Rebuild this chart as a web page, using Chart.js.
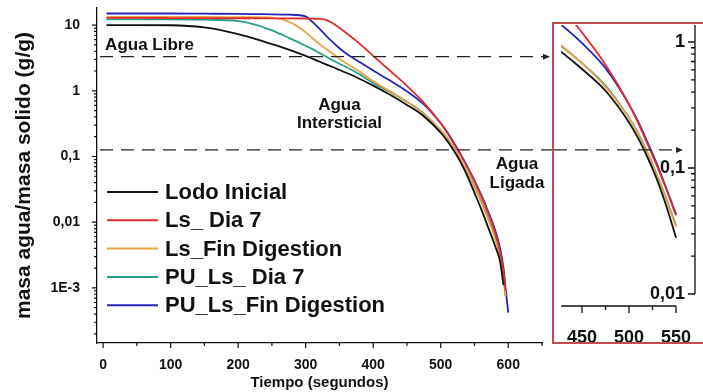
<!DOCTYPE html>
<html>
<head>
<meta charset="utf-8">
<script src="https://cdn.jsdelivr.net/npm/chart.js@4.4.1/dist/chart.umd.min.js"></script>
<style>
  html, body { margin: 0; padding: 0; background: #fff; }
  #wrap { position: relative; width: 703px; height: 392px; overflow: hidden; }
  #main { position: absolute; left: 0; top: 0; }
  #insetBox { position: absolute; left: 552px; top: 22px; width: 151px; height: 318px;
              border: 2px solid #bf4f4f; border-right: none; background: #fff; }
  #inset { position: absolute; left: 0; top: 0; }
</style>
</head>
<body>
<div id="wrap">
  <canvas id="main" width="703" height="392"></canvas>
  <div id="insetBox"><canvas id="inset" width="151" height="318"></canvas></div>
</div>
<script>
// tiempo (s) and masa agua / masa solido (g/g)
const tiempo = [5, 50, 100, 150, 200, 225, 250, 275, 300, 310, 320, 330, 340, 350, 360, 375,
                400, 425, 450, 475, 500, 510, 520, 530, 540, 550, 560, 570, 580, 588, 593, 596, 600];

const lodoInicial = [10.0, 10.0, 9.95, 9.2, 7.3, 6.17, 5.13, 4.22, 3.39, 3.08, 2.79, 2.53, 2.3, 2.07, 1.88, 1.61,
                     1.2, 0.87, 0.61, 0.41, 0.23, 0.171, 0.12, 0.08, 0.049, 0.028, 0.0158, 0.0085, 0.0045, 0.0025, 0.0011, null, null];
const lsDia7 = [12.9, 12.85, 12.8, 12.75, 12.7, 12.7, 12.65, 12.65, 12.6, 12.55, 12.4, 12.0, 10.7, 9.1, 7.6, 5.75,
                3.4, 2.02, 1.19, 0.66, 0.32, 0.225, 0.153, 0.103, 0.067, 0.042, 0.025, 0.014, 0.0072, 0.0035, 0.0018, 0.0009, null];
const lsFinDigestion = [13.3, 13.3, 13.3, 13.3, 13.2, 13.2, 13.0, 11.3, 7.8, 6.3, 5.2, 4.35, 3.65, 3.08, 2.63, 2.1,
                        1.41, 0.98, 0.68, 0.44, 0.25, 0.185, 0.13, 0.086, 0.055, 0.034, 0.02, 0.0112, 0.0059, 0.003, 0.0015, 0.00074, null];
const puLsDia7 = [12.2, 12.2, 12.2, 12.1, 11.5, 10.2, 8.3, 6.4, 4.85, 4.3, 3.78, 3.32, 2.92, 2.58, 2.3, 1.9,
                  1.32, 0.96, 0.68, 0.45, 0.25, 0.187, 0.13, 0.087, 0.056, 0.035, 0.021, 0.0118, 0.0062, 0.0031, 0.0015, 0.00075, null];
const puLsFinDigestion = [15.0, 15.0, 15.0, 14.9, 14.8, 14.7, 14.6, 14.4, 13.6, 11.2, 8.9, 6.9, 5.5, 4.45, 3.7, 2.95,
                          2.03, 1.43, 0.98, 0.62, 0.32, 0.231, 0.158, 0.106, 0.068, 0.043, 0.026, 0.0148, 0.0079, 0.004, 0.002, 0.001, 0.00042];

const seriesLabels = ['Lodo Inicial', 'Ls_ Dia 7', 'Ls_Fin Digestion', 'PU_Ls_ Dia 7', 'PU_Ls_Fin Digestion'];
const seriesColors = ['#111111', '#e22b2b', '#e9a444', '#2a9c8c', '#2424b8'];
const seriesValues = [lodoInicial, lsDia7, lsFinDigestion, puLsDia7, puLsFinDigestion];

const xTicks = [0, 100, 200, 300, 400, 500, 600];
const yTickValues = [0.001, 0.01, 0.1, 1, 10];
const yTickLabels = ['1E-3', '0,01', '0,1', '1', '10'];

const insetXTicks = [450, 500, 550];
const insetYTickValues = [0.01, 0.1, 1];
const insetYTickLabels = ['0,01', '0,1', '1'];
const insetEnd = 550;

// niveles de las lineas punteadas
const nivelLibre = 3.3;
const nivelLigada = 0.126;

const FONT = "'Liberation Sans', Arial, Helvetica, sans-serif";
const INK = '#111';

function toPoints(values) {
  return tiempo.map((t, i) => ({ x: t, y: values[i] })).filter(p => p.y !== null);
}

function makeDatasets(filterFn) {
  return seriesValues.map((vals, i) => ({
    label: seriesLabels[i],
    data: toPoints(vals).filter(filterFn),
    borderColor: seriesColors[i],
    backgroundColor: seriesColors[i],
    borderWidth: 1.8,
    pointRadius: 0,
    cubicInterpolationMode: 'monotone',
    fill: false,
  }));
}

function arrowLine(ctx, x0, x1, y) {
  ctx.save();
  ctx.strokeStyle = '#222';
  ctx.fillStyle = '#222';
  ctx.lineWidth = 1.3;
  ctx.setLineDash([13, 8]);
  ctx.beginPath();
  ctx.moveTo(x0, y);
  ctx.lineTo(x1 - 6, y);
  ctx.stroke();
  ctx.setLineDash([]);
  ctx.beginPath();
  ctx.moveTo(x1, y);
  ctx.lineTo(x1 - 7, y - 3);
  ctx.lineTo(x1 - 7, y + 3);
  ctx.closePath();
  ctx.fill();
  ctx.restore();
}

const mainDecor = {
  id: 'mainDecor',
  afterDatasetsDraw(chart) {
    const { ctx, chartArea: a, scales: { x, y } } = chart;
    ctx.save();
    // marcas de los ejes
    ctx.strokeStyle = INK;
    ctx.lineWidth = 1.2;
    ctx.beginPath();
    for (let v = 0; v <= 650; v += 50) {
      const px = x.getPixelForValue(v);
      const len = v % 100 === 0 ? 5 : 3;
      ctx.moveTo(px, a.bottom);
      ctx.lineTo(px, a.bottom + len);
    }
    for (let e = -4; e <= 1; e++) {
      for (let k = 1; k <= 9; k++) {
        const v = k * Math.pow(10, e);
        if (v < y.min || v > y.max) continue;
        const py = y.getPixelForValue(v);
        ctx.moveTo(a.left, py);
        ctx.lineTo(a.left - (k === 1 ? 5 : 3), py);
      }
    }
    ctx.stroke();

    // lineas punteadas
    arrowLine(ctx, a.left + 3, 550, y.getPixelForValue(nivelLibre));
    arrowLine(ctx, a.left + 3, 560, y.getPixelForValue(nivelLigada));

    // textos
    ctx.fillStyle = INK;
    ctx.font = 'bold 17px ' + FONT;
    ctx.textBaseline = 'middle';
    ctx.textAlign = 'left';
    ctx.fillText('Agua Libre', x.getPixelForValue(3), y.getPixelForValue(4.9));
    ctx.textAlign = 'center';
    ctx.fillText('Agua', x.getPixelForValue(350), y.getPixelForValue(0.6));
    ctx.fillText('Intersticial', x.getPixelForValue(350), y.getPixelForValue(0.325));
    ctx.fillText('Agua', x.getPixelForValue(613), y.getPixelForValue(0.077));
    ctx.fillText('Ligada', x.getPixelForValue(613), y.getPixelForValue(0.0385));

    // leyenda
    ctx.font = 'bold 22px ' + FONT;
    ctx.textAlign = 'left';
    chart.data.datasets.forEach((ds, i) => {
      const ly = 192 + i * 28.3;
      ctx.strokeStyle = ds.borderColor;
      ctx.lineWidth = 2;
      ctx.beginPath();
      ctx.moveTo(107, ly);
      ctx.lineTo(158, ly);
      ctx.stroke();
      ctx.fillStyle = INK;
      ctx.fillText(ds.label, 165, ly + 1);
    });
    ctx.restore();
  }
};

const mainChart = new Chart(document.getElementById('main'), {
  type: 'line',
  data: { datasets: makeDatasets(() => true) },
  options: {
    responsive: false,
    animation: false,
    layout: { padding: { top: 8, right: 161, left: 0, bottom: 0 } },
    plugins: { legend: { display: false }, tooltip: { enabled: false } },
    scales: {
      x: {
        type: 'linear',
        min: -9,
        max: 650,
        afterFit: (s) => { s.height = 49; },
        afterBuildTicks: (s) => { s.ticks = xTicks.map(v => ({ value: v })); },
        grid: { display: false },
        border: { color: INK, width: 1.3 },
        ticks: { color: INK, font: { family: FONT, size: 14, weight: 'bold' }, padding: 6, maxRotation: 0, autoSkip: false },
        title: { display: true, text: 'Tiempo (segundos)', color: INK,
                 font: { family: FONT, size: 15, weight: 'bold' }, padding: { top: 0, bottom: 0 } },
      },
      y: {
        type: 'logarithmic',
        min: 1.45e-4,
        max: 18.2,
        afterFit: (s) => { s.width = 97; s.paddingTop = 0; s.paddingBottom = 0; },
        afterBuildTicks: (s) => { s.ticks = yTickValues.map(v => ({ value: v })); },
        grid: { display: false },
        border: { color: INK, width: 1.3 },
        ticks: {
          color: INK, font: { family: FONT, size: 14, weight: 'bold' }, padding: 9, autoSkip: false,
          callback: (v) => yTickLabels[yTickValues.findIndex(t => Math.abs(t - v) / t < 1e-6)],
        },
        title: { display: true, text: 'masa agua/masa solido (g/g)', color: INK,
                 font: { family: FONT, size: 21, weight: 'bold' }, padding: { top: 12, bottom: 0 } },
      },
    },
  },
  plugins: [mainDecor],
});

const insetDecor = {
  id: 'insetDecor',
  afterDatasetsDraw(chart) {
    const { ctx, chartArea: a, scales: { x, y } } = chart;
    ctx.save();
    ctx.strokeStyle = INK;
    ctx.lineWidth = 1.3;
    ctx.beginPath();
    // eje x (solo hasta 550)
    ctx.moveTo(a.left, a.bottom);
    ctx.lineTo(x.getPixelForValue(insetEnd), a.bottom);
    for (let v = 450; v <= insetEnd; v += 25) {
      const px = x.getPixelForValue(v);
      ctx.moveTo(px, a.bottom);
      ctx.lineTo(px, a.bottom + (v % 50 === 0 ? 7 : 4));
    }
    // eje y a la derecha, marcas hacia dentro
    ctx.moveTo(a.right, a.top);
    ctx.lineTo(a.right, y.getPixelForValue(0.01));
    for (let e = -2; e <= 0; e++) {
      for (let k = 1; k <= 9; k++) {
        const v = k * Math.pow(10, e);
        if (v < 0.01 || v > y.max) continue;
        const py = y.getPixelForValue(v);
        ctx.moveTo(a.right, py);
        ctx.lineTo(a.right - (k === 1 ? 7 : 4), py);
      }
    }
    ctx.stroke();
    ctx.restore();
    // continuacion de la linea punteada de agua ligada
    const pageY = mainChart.scales.y.getPixelForValue(nivelLigada) - 24;
    arrowLine(ctx, 0, 683 - 554, pageY);
  }
};

new Chart(document.getElementById('inset'), {
  type: 'line',
  data: { datasets: makeDatasets(p => p.x <= insetEnd) },
  options: {
    responsive: false,
    animation: false,
    layout: { padding: { top: 1, right: 10, left: 0, bottom: 0 } },
    plugins: { legend: { display: false }, tooltip: { enabled: false } },
    scales: {
      x: {
        type: 'linear',
        min: 427.8,
        max: 570.2,
        afterFit: (s) => { s.height = 36; },
        afterBuildTicks: (s) => { s.ticks = insetXTicks.map(v => ({ value: v })); },
        grid: { display: false },
        border: { display: false },
        ticks: { color: INK, font: { family: FONT, size: 18, weight: 'bold' }, padding: 13, maxRotation: 0, autoSkip: false },
      },
      y: {
        type: 'logarithmic',
        position: 'right',
        min: 0.00803,
        max: 1.364,
        afterFit: (s) => { s.width = 0; },
        afterBuildTicks: (s) => { s.ticks = insetYTickValues.map(v => ({ value: v })); },
        grid: { display: false },
        border: { display: false },
        ticks: {
          mirror: true, padding: -10, color: INK, font: { family: FONT, size: 18, weight: 'bold' }, autoSkip: false,
          callback: (v) => insetYTickLabels[insetYTickValues.findIndex(t => Math.abs(t - v) / t < 1e-6)],
        },
      },
    },
  },
  plugins: [insetDecor],
});
</script>
</body>
</html>
